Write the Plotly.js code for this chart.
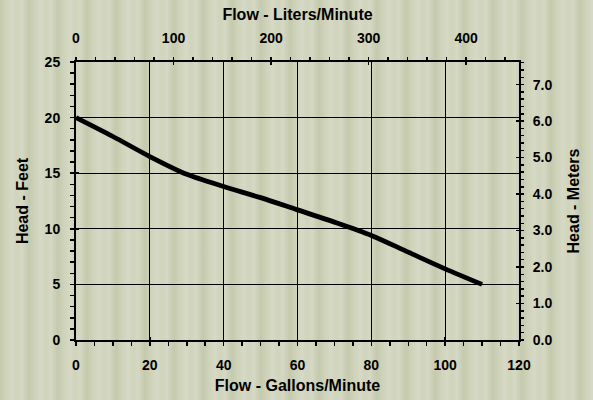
<!DOCTYPE html>
<html>
<head>
<meta charset="utf-8">
<script src="https://cdn.plot.ly/plotly-3.0.1.min.js"></script>
<style>
html,body{margin:0;padding:0;}
body{width:593px;height:400px;overflow:hidden;
background: repeating-linear-gradient(90deg,#c5c9ad 0px,#cfd3b9 6px,#d6d9c5 12px,#d0d4bb 17px,#d5d8c3 22px,#c5c9ad 29px);}
#chart{width:593px;height:400px;}
</style>
</head>
<body>
<div id="chart"></div>
<script>
// Pump curve data
const flowGPM = [0, 10, 20, 30, 40, 50, 60, 70, 80, 90, 100, 110];
const headFeet = [20, 18.3, 16.5, 14.9, 13.8, 12.8, 11.7, 10.6, 9.4, 7.9, 6.4, 5.0];
const GAL_TO_L = 3.785;
const FT_TO_M = 0.3048;
const xRangeGPM = [0, 120];
const yRangeFt = [0, 25];

const fontFam = '"Liberation Sans", Arial, Helvetica, sans-serif';
const tickFont = {family: fontFam, size: 14, color: '#000', weight: 'bold'};
const titleFont = {family: fontFam, size: 16, color: '#000', weight: 'bold'};

const traces = [{
  x: flowGPM, y: headFeet, type: 'scatter', mode: 'lines',
  line: {color: '#000', width: 4.8, shape: 'spline', smoothing: 0.8},
  xaxis: 'x', yaxis: 'y', hoverinfo: 'skip', showlegend: false
}];

const baseAx = {
  showline: false, zeroline: false, fixedrange: true,
  tickfont: tickFont, tickcolor: '#000', tickwidth: 1.5
};

const layout = {
  width: 593, height: 400,
  margin: {l: 76, r: 74, t: 62, b: 60, pad: 0},
  paper_bgcolor: 'rgba(0,0,0,0)', plot_bgcolor: 'rgba(0,0,0,0)',
  showlegend: false,
  xaxis: Object.assign({}, baseAx, {
    range: xRangeGPM, dtick: 20, tick0: 0,
    ticks: 'outside', ticklen: 4, ticklabelstandoff: 7,
    showgrid: true, gridcolor: '#000', gridwidth: 1,
    showline: true, linecolor: '#000', linewidth: 2, mirror: true,
    minor: {dtick: 5, ticks: 'outside', ticklen: 4, tickcolor: '#000', tickwidth: 1.5, showgrid: false},
    title: {text: 'Flow - Gallons/Minute', font: titleFont, standoff: 8},
    anchor: 'y'
  }),
  yaxis: Object.assign({}, baseAx, {
    range: yRangeFt, dtick: 5, tick0: 0,
    ticks: 'outside', ticklen: 4, ticklabelstandoff: 7,
    showgrid: true, gridcolor: '#000', gridwidth: 1,
    showline: true, linecolor: '#000', linewidth: 2, mirror: true,
    minor: {dtick: 1, ticks: 'outside', ticklen: 4, tickcolor: '#000', tickwidth: 1.5, showgrid: false},
    title: {text: 'Head - Feet', font: titleFont, standoff: 12},
    anchor: 'x'
  }),
  // Top axis: liters/minute
  xaxis2: Object.assign({}, baseAx, {
    overlaying: 'x', side: 'top', anchor: 'y',
    range: [xRangeGPM[0]*GAL_TO_L, xRangeGPM[1]*GAL_TO_L],
    dtick: 100, tick0: 0, ticks: 'outside', ticklen: 4, ticklabelstandoff: 8, showgrid: false,
    minor: {dtick: 20, ticks: 'outside', ticklen: 4, tickcolor: '#000', tickwidth: 1.5, showgrid: false},
    title: {text: 'Flow - Liters/Minute', font: titleFont, standoff: 5}
  }),
  // Right axis: meters
  yaxis2: Object.assign({}, baseAx, {
    overlaying: 'y', side: 'right', anchor: 'x',
    range: [yRangeFt[0]*FT_TO_M, yRangeFt[1]*FT_TO_M],
    dtick: 1, tick0: 0, tickformat: '.1f', ticks: 'outside', ticklen: 4, ticklabelstandoff: 6, showgrid: false,
    minor: {dtick: 0.2, ticks: 'outside', ticklen: 4, tickcolor: '#000', tickwidth: 1.5, showgrid: false},
    title: {text: 'Head - Meters', font: titleFont, standoff: 16}
  }),
  // Inside halves of crossing major ticks
  xaxis3: Object.assign({}, baseAx, {overlaying: 'x', side: 'bottom', anchor: 'y', range: xRangeGPM, dtick: 20, ticks: 'inside', ticklen: 3, showticklabels: false, showgrid: false}),
  yaxis3: Object.assign({}, baseAx, {overlaying: 'y', side: 'left', anchor: 'x', range: yRangeFt, dtick: 5, ticks: 'inside', ticklen: 3, showticklabels: false, showgrid: false}),
  xaxis4: Object.assign({}, baseAx, {overlaying: 'x', side: 'top', anchor: 'y', range: [xRangeGPM[0]*GAL_TO_L, xRangeGPM[1]*GAL_TO_L], dtick: 100, ticks: 'inside', ticklen: 3, showticklabels: false, showgrid: false}),
  yaxis4: Object.assign({}, baseAx, {overlaying: 'y', side: 'right', anchor: 'x', range: [yRangeFt[0]*FT_TO_M, yRangeFt[1]*FT_TO_M], dtick: 1, ticks: 'inside', ticklen: 3, showticklabels: false, showgrid: false})
};

// helper invisible traces so that overlay axes are rendered
traces.push({x: flowGPM.map(v => v*GAL_TO_L), y: headFeet.map(v => v*FT_TO_M), xaxis: 'x2', yaxis: 'y2', mode: 'lines', line: {width: 0}, opacity: 0, hoverinfo: 'skip', showlegend: false});
traces.push({x: flowGPM, y: headFeet, xaxis: 'x3', yaxis: 'y3', mode: 'lines', line: {width: 0}, opacity: 0, hoverinfo: 'skip', showlegend: false});
traces.push({x: flowGPM.map(v => v*GAL_TO_L), y: headFeet.map(v => v*FT_TO_M), xaxis: 'x4', yaxis: 'y4', mode: 'lines', line: {width: 0}, opacity: 0, hoverinfo: 'skip', showlegend: false});

Plotly.newPlot('chart', traces, layout, {displayModeBar: false, staticPlot: true});
</script>
</body>
</html>
